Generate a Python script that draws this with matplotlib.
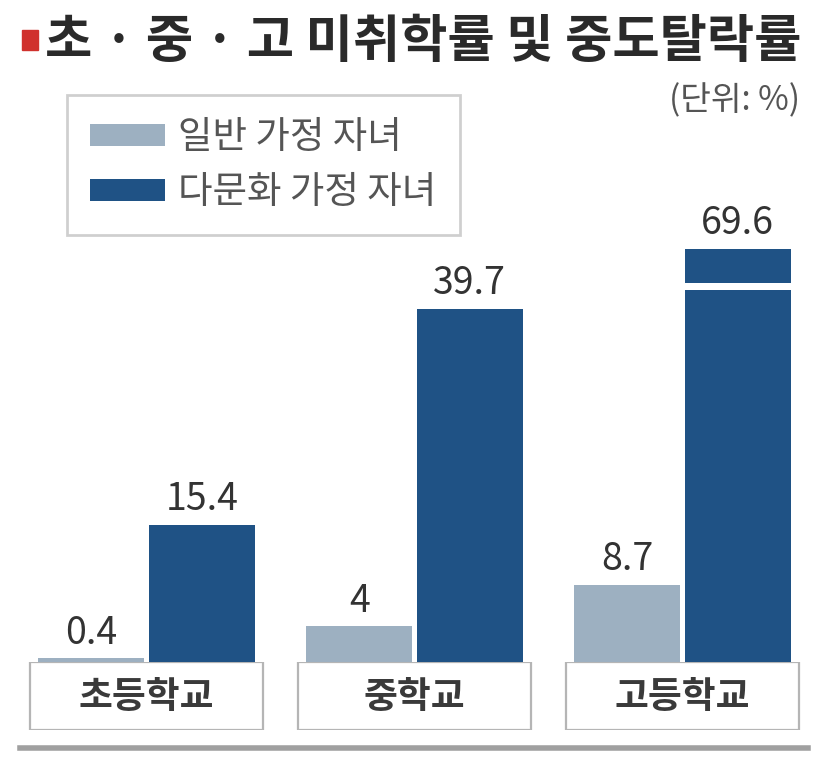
import matplotlib

matplotlib.use("Agg")
import matplotlib.pyplot as plt
import numpy as np
from matplotlib.lines import Line2D
from matplotlib.patches import Rectangle

plt.rcParams["font.family"] = ["Noto Sans CJK KR", "DejaVu Sans"]

# data
schools = ["초등학교", "중학교", "고등학교"]
series_names = ["일반 가정 자녀", "다문화 가정 자녀"]
general = [0.4, 4, 8.7]
multicultural = [15.4, 39.7, 69.6]
value_labels_general = ["0.4", "4", "8.7"]
value_labels_multi = ["15.4", "39.7", "69.6"]

LIGHT = "#9db0c1"
DARK = "#1f5285"
TEXT = "#333333"

W, H = 828, 779
fig = plt.figure(figsize=(W / 100, H / 100), dpi=100)
fig.patch.set_facecolor("white")


def fx(px):
    return px / W


def fy(py):
    return 1 - py / H


# main bar axes: baseline at y=662px, 8.9 px per unit
px_per_unit = 8.9
base_px, top_px = 662, 200
ax = fig.add_axes([0, fy(base_px), 1, (base_px - top_px) / H])
ax.set_xlim(-146.5 / 268, (W - 146.5) / 268)
ax.set_ylim(0, (base_px - top_px) / px_per_unit)
ax.axis("off")

cap = (base_px - 249) / px_per_unit  # bars taller than this are drawn broken
x = np.arange(len(schools))
off, width = 0.206, 0.395

multi_drawn = [min(v, cap) for v in multicultural]
ax.bar(x - off, general, width, color=LIGHT, label=series_names[0])
ax.bar(x + off, multi_drawn, width, color=DARK, label=series_names[1])

# break mark on the truncated bar
for i, v in enumerate(multicultural):
    if v > cap:
        brk = (base_px - 290) / px_per_unit
        ax.bar(x[i] + off, 0.8, width * 1.05, bottom=brk, color="white")

for xs, vals, labs in [(x - off, general, value_labels_general),
                       (x + off, multi_drawn, value_labels_multi)]:
    for xi, v, lab in zip(xs, vals, labs):
        ax.annotate(lab, (xi, v), xytext=(0, 4), textcoords="offset points",
                    ha="center", va="bottom", fontsize=27, color=TEXT)

# category label boxes
lab_ax = fig.add_axes([0, fy(730), 1, (730 - 662) / H])
lab_ax.set_xlim(ax.get_xlim())
lab_ax.set_ylim(0, 1)
lab_ax.axis("off")
for i, s in enumerate(schools):
    lab_ax.add_patch(Rectangle((i - 0.433, 0), 0.866, 1, facecolor="white",
                               edgecolor="#b5b5b5", lw=1.6))
    lab_ax.text(i, 0.48, s, ha="center", va="center", fontsize=26.5,
                fontweight="bold", color="#3a3a3a")

# title
fig.add_artist(Rectangle((fx(22), fy(50)), fx(16), 20 / H, color="#d0312d",
                         transform=fig.transFigure))
fig.text(fx(45), fy(41), "초 · 중 · 고 미취학률 및 중도탈락률", ha="left",
         va="center", fontsize=37, fontweight="black", color="#2a2a2a")
fig.text(fx(800), fy(101), "(단위: %)", ha="right", va="center",
         fontsize=24, color="#555555")

# legend
leg = fig.legend(loc="upper left", bbox_to_anchor=(fx(67), fy(95)),
                 borderaxespad=0, fontsize=27, frameon=True, fancybox=False,
                 handlelength=2.0, handleheight=0.53, handletextpad=0.35,
                 labelspacing=0.42, borderpad=0.62, labelcolor="#555555")
leg.get_frame().set_edgecolor("#c4c4c4")
leg.get_frame().set_linewidth(2)

# bottom rule
fig.add_artist(Line2D([fx(20), fx(808)], [fy(748), fy(748)], color="#a0a0a0",
                      lw=4, transform=fig.transFigure))

fig.savefig("out.png", dpi=100)
